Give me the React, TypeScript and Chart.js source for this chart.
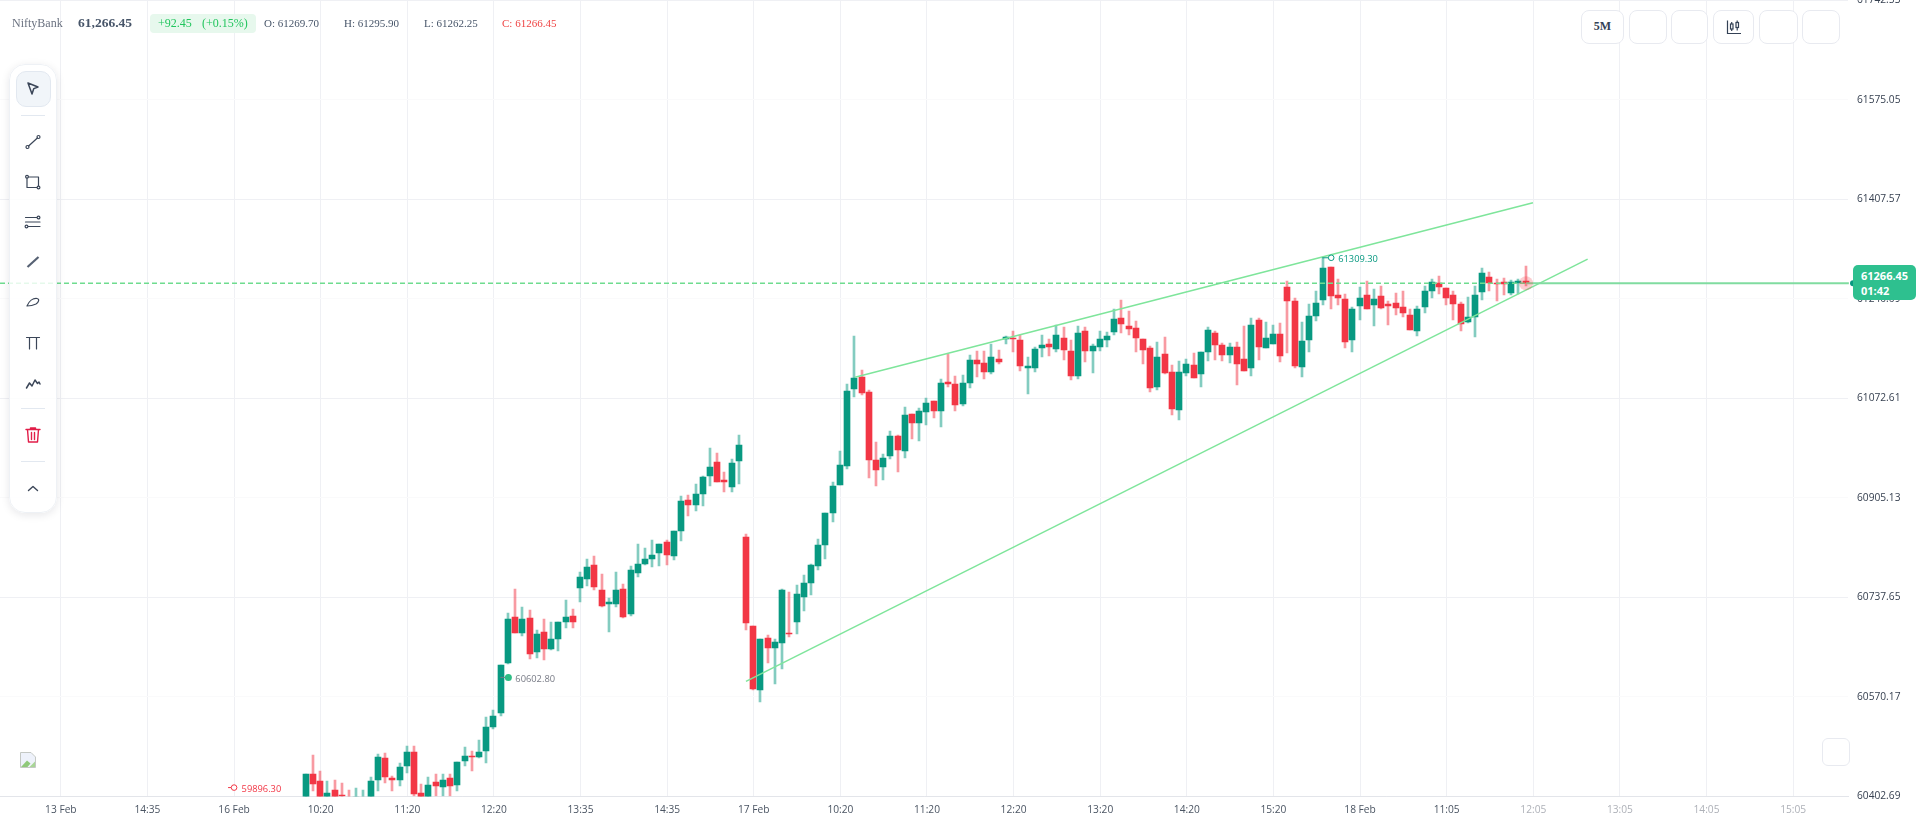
import React, { useEffect, useRef } from "react";
import { Chart, registerables } from "chart.js";

Chart.register(...registerables);

const firstIndex = -2;

const opens = [
  60385.7,60440.7,60428.9,60391.3,60413.8,60404.8,60399.8,60394.1,60394.1,60391.3,
  60430.6,60467.6,60434,60430.6,60454.2,60477.7,60408.7,60397,60427.2,60418.8,
  60434,60422.2,60462.6,60471,60469.3,60479.4,60519.8,60543.4,60627.5,60704.9,
  60678,60703.3,60646,60679.7,60651.1,60667.9,60696.5,60706.6,60753.8,60768.9,
  60792.5,60750.4,60726.8,60726.8,60752.1,60710,60779,60794.1,60802.6,60812.7,
  60831.2,60807.6,60849.7,60901.9,60893.4,60912,60942.3,60965.8,60935.5,60923.7,
  60967.5,60839.6,60689.8,60582.1,60669.6,60652.8,60661.2,60678,60696.5,60738.6,
  60762.2,60790.8,60826.1,60880,60927.1,60959.1,61088.7,61108.9,61083.6,60969.2,
  60957.4,60975.9,61009.6,60984.3,61046.6,61031.5,61050,61068.5,61051.6,61100.5,
  61097.1,61063.4,61098.8,61137.5,61132.4,61117.3,61139.2,61172.8,61174.5,61171.1,
  61124,61124,61157.7,61164.4,61156,61174.5,61152.6,61110.5,61186.3,61152.6,
  61159.3,61171.1,61184.6,61208.1,61194.7,61191.3,61172.8,61157.7,61092,61147.6,
  61117.3,61053.3,61115.6,61129,61113.9,61150.9,61182.9,61162.7,61145.9,61159.3,
  61139.1,61124,61204.8,61157.7,61164.4,61181.2,61260.3,61236.8,61125.7,61171.1,
  61211.5,61238.4,61294,61246.8,61240.1,61171.1,61228.3,61246.8,61230,61245.2,
  61231.7,61233.4,61226.6,61213.2,61186.2,61226.6,61253.6,61267,61258.6,61246.8,
  61231.7,61201.4,61209.8,61251.9,61277.1,61267,61268.7,61250.2,61267,61269.7,
];

const highs = [
  60441,60472.7,60445.8,60428.9,60430.6,60425.6,60413.8,60417.2,60413.8,60435.7,
  60474.4,60476,60437.4,60459.2,60487.8,60487.8,60423.9,60435.7,60440.7,60440.7,
  60440.7,60460.9,60486.2,60479.4,60497.9,60536.6,60548.4,60624.2,60711.7,60752.1,
  60721.8,60716.7,60683.1,60701.6,60696.5,60696.5,60733.6,60718.4,60780.7,60802.6,
  60807.6,60777.3,60736.9,60780.7,60760.5,60790.8,60827.8,60821.1,60834.5,60827.8,
  60834.5,60849.7,60908.6,60910.3,60928.8,60942.3,60989.4,60981,60949,60970.9,
  61011.3,60844.6,60689.8,60667.9,60674.7,60667.9,60752.1,60747,60758.8,60775.6,
  60794.1,60836.2,60880,60932.2,60984.3,61097.1,61177.9,61120.6,61087,60999.5,
  60979.3,61018,61011.3,61058.4,61046.6,61056.7,61073.5,61068.5,61105.5,61147.6,
  61110.6,61112.2,61145.9,61152.6,61152.6,61164.4,61154.3,61177.9,61186.3,61179.6,
  61142.5,61159.4,61179.6,61172.8,61196.4,61193,61171.1,61194.7,61193,61164.4,
  61186.3,61184.6,61223.3,61238.4,61219.9,61203.1,61172.8,61161,61167.8,61176.2,
  61129,61135.8,61139.1,61149.2,61150.9,61193,61186.3,61166.1,61166.1,61167.8,
  61194.7,61208.1,61208.1,61201.4,61196.4,61199.7,61270.4,61241.8,61201.4,61231.7,
  61253.6,61309.3,61294,61273.8,61248.5,61226.6,61260.3,61270.4,61256.9,61262,
  61236.7,61250.2,61253.6,61223.3,61228.3,61262,61273.8,61278.8,61258.6,61253.6,
  61235.1,61243.5,61262,61292.3,61285.5,61273.8,61275.4,61272.1,61273.8,61295.9,
];

const lows = [
  60380.1,60412.1,60391.3,60385.7,60385.7,60397,60391.3,60388.5,60388.5,60385.7,
  60412.1,60425.6,60412.1,60420.5,60442.4,60402.6,60391.3,60391.3,60402.6,60402.6,
  60402.6,60412.1,60454.2,60445.8,60467.6,60459.2,60516.4,60538.3,60625.8,60678,
  60673,60634.3,60635.9,60632.6,60649.4,60647.7,60686.4,60686.4,60730.2,60757.1,
  60750.4,60721.8,60679.7,60721.8,60703.3,60706.6,60772.3,60792.5,60789.1,60790.8,
  60792.5,60800.9,60832.9,60874.9,60883.3,60891.8,60925.4,60932.2,60915.3,60915.3,
  60928.8,60683.1,60582.1,60561.9,60627.5,60592.2,60617.4,60671.3,60676.3,60715,
  60742,60784,60802.6,60864.8,60927.1,60954,61075.2,61078.6,60938.9,60925.4,
  60935.5,60970.9,60949,60972.5,61004.5,61001.2,61028.1,61039.9,61024.7,61092,
  61051.6,61060.1,61090.4,61108.9,61105.5,61113.9,61130.7,61164.4,61150.9,61119,
  61080.3,61117.3,61142.5,61144.2,61150.9,61137.5,61103.8,61105.5,61134.1,61115.6,
  61152.6,61159.3,61179.5,61182.9,61179.5,61150.9,61130.7,61083.6,61087,61113.9,
  61044.9,61036.5,61110.5,61107.2,61092,61135.8,61137.5,61135.8,61132.4,61095.4,
  61118.9,61110.5,61137.5,61157.7,61164.4,61134.1,61149.2,61124,61108.8,61150.9,
  61203.1,61230,61223.3,61230,61157.6,61150.9,61204.8,61223.3,61194.7,61223.3,
  61196.3,61213.2,61209.8,61187.9,61177.8,61216.5,61241.8,61248.5,61230,61204.8,
  61186.2,61199.7,61176.1,61238.4,61253.6,61236.7,61246.8,61246.8,61248.5,61262.25,
];

const closes = [
  60440.7,60423.9,60397,60408.7,60391.3,60402.6,60397,60401.4,60399.8,60428.9,
  60469.3,60435.7,60430.6,60452.5,60477.7,60407,60397,60422.2,60420.5,60430.6,
  60420.5,60460.9,60471,60469.3,60477.7,60519.8,60538.3,60624.2,60701.6,60678,
  60701.6,60642.7,60676.3,60651.1,60667.9,60696.5,60704.9,60696.5,60772.3,60789.1,
  60755.4,60723.5,60730.2,60750.4,60704.9,60784,60794.1,60802.6,60809.3,60827.8,
  60809.3,60849.7,60900.2,60893.4,60912,60940.6,60957.4,60932.2,60932.2,60964.1,
  60994.4,60694.9,60583.8,60667.9,60652.8,60662.9,60750.4,60676.3,60743.7,60762.2,
  60792.5,60826.1,60880,60925.4,60960.8,61085.3,61107.2,61081.9,60969.2,60952.3,
  60972.5,61009.6,60986,61044.9,61031.5,61051.6,61065.1,61051.6,61098.8,61097.1,
  61061.7,61098.8,61137.5,61130.7,61117.3,61142.5,61134.1,61176.2,61172.8,61127.4,
  61127.4,61156,61162.7,61159.3,61179.5,61154.3,61110.5,61182.9,61152.6,61161,
  61172.8,61177.9,61206.5,61198,61189.6,61174.5,61154.3,61090.3,61142.5,61115.6,
  61055,61117.3,61130.7,61107.2,61150.9,61187.9,61162.7,61145.9,61159.3,61130.7,
  61118.9,61196.4,61159.3,61174.5,61181.2,61144.2,61236.8,61127.4,61169.4,61211.5,
  61233.4,61292.3,61245.2,61241.8,61167.7,61223.3,61241.8,61223.3,61240.1,61225,
  61228.3,61225,61216.5,61187.9,61223.3,61253.6,61268.7,61260.3,61241.8,61231.7,
  61198,61209.8,61246.8,61283.9,61267,61265.3,61265.3,61268.7,61270.4,61266.45,
];

const xTickValues = [-36,-24,-12,0,12,24,36,48,60,72,84,96,108,120,132,144,156,168,180,192,204];
const xTickLabels = ["13 Feb","14:35","16 Feb","10:20","11:20","12:20","13:35","14:35","17 Feb","10:20","11:20","12:20","13:20","14:20","15:20","18 Feb","11:05","12:05","13:05","14:05","15:05"];
const firstFutureTick = 17;
const yTickValues = [60402.69,60570.17,60737.65,60905.13,61072.61,61240.09,61407.57,61575.05,61742.53];

const lastPrice = 61266.45;
const lastIndex = 167;
const lowerTrend = [{ x: 58.92, y: 60596 }, { x: 175.53, y: 61307 }];
const upperTrend = [{ x: 74.02, y: 61108 }, { x: 167.95, y: 61402 }];

const X_MIN = -44.43;
const X_MAX = 211.6;
const Y_MIN = 60402.3;
const Y_MAX = 61743.3;

const TEAL = "#089981";
const RED = "#f23645";
const TEAL_WICK = "rgba(8,153,129,0.5)";
const RED_WICK = "rgba(242,54,69,0.5)";
const TREND = "#7ee59b";
const TICK_FONT = "'Open Sans', sans-serif";

const isUp = (i: number) => closes[i] >= opens[i];

const candlePlugin = {
  id: "candleSnap",
  afterDatasetsUpdate(chart: any) {
    chart.data.datasets.forEach((d: any, di: number) => {
      if (d.type !== "bar") return;
      chart.getDatasetMeta(di).data.forEach((el: any) => {
        el.x = Math.floor(el.x);
        el.y = Math.round(el.y);
        el.base = Math.round(el.base);
        if (el.y === el.base) el.base = el.y + 1;
        el.height = el.base - el.y;
      });
    });
  },
  afterDatasetsDraw(chart: any) {
    const { ctx } = chart;
    const sx = chart.scales.x;
    const sy = chart.scales.y;
    ctx.save();
    ctx.textBaseline = "middle";
    ctx.textAlign = "left";
    ctx.font = `9.3px ${TICK_FONT}`;

    // pulse on the live candle
    const px = Math.floor(sx.getPixelForValue(lastIndex));
    const py = sy.getPixelForValue(lastPrice);
    ctx.beginPath();
    ctx.arc(px, py, 7, 0, Math.PI * 2);
    ctx.fillStyle = "rgba(242,54,69,0.25)";
    ctx.fill();

    // high marker
    const hx = sx.getPixelForValue(140);
    const hy = sy.getPixelForValue(61309.3);
    ctx.strokeStyle = TEAL;
    ctx.lineWidth = 1;
    ctx.beginPath();
    ctx.moveTo(hx - 9, hy);
    ctx.lineTo(hx - 3, hy);
    ctx.stroke();
    ctx.beginPath();
    ctx.arc(hx, hy, 2.8, 0, Math.PI * 2);
    ctx.fillStyle = "#fff";
    ctx.fill();
    ctx.stroke();
    ctx.fillStyle = TEAL;
    ctx.fillText("61309.30", hx + 7, hy + 2);

    // previous marker
    const mx = sx.getPixelForValue(26);
    const my = sy.getPixelForValue(60602.8);
    ctx.strokeStyle = "#787b86";
    ctx.beginPath();
    ctx.moveTo(mx - 8, my);
    ctx.lineTo(mx, my);
    ctx.stroke();
    ctx.beginPath();
    ctx.arc(mx, my, 3.5, 0, Math.PI * 2);
    ctx.fillStyle = "#2ebd85";
    ctx.fill();
    ctx.fillStyle = "#787b86";
    ctx.fillText("60602.80", mx + 7, my + 2);

    // low marker pinned to the lower edge
    const lx = sx.getPixelForValue(-12);
    const ly = sy.getPixelForValue(60417.3);
    ctx.strokeStyle = RED;
    ctx.beginPath();
    ctx.moveTo(lx - 6, ly);
    ctx.lineTo(lx - 3, ly);
    ctx.stroke();
    ctx.beginPath();
    ctx.arc(lx, ly, 2.8, 0, Math.PI * 2);
    ctx.fillStyle = "#fff";
    ctx.fill();
    ctx.stroke();
    ctx.fillStyle = RED;
    ctx.fillText("59896.30", lx + 7.5, ly + 2);

    // live-price anchor
    ctx.beginPath();
    ctx.arc(1853, py, 3, 0, Math.PI * 2);
    ctx.fillStyle = TEAL;
    ctx.fill();
    ctx.restore();
  },
};

const ink = "#3b4658";

const Svg = ({ children, size = 18 }: any) => (
  <svg width={size} height={size} viewBox="0 0 18 18" fill="none" stroke={ink} strokeWidth={1.2} strokeLinecap="round" strokeLinejoin="round">
    {children}
  </svg>
);

const toolIcons: { y: number; icon: any }[] = [
  { y: 89, icon: <Svg><path d="M4 3l10 4-4.2 1.6L8 14z" strokeWidth={1.5} /></Svg> },
  { y: 141.5, icon: <Svg><circle cx="3.5" cy="14" r="1.5" /><circle cx="14.5" cy="4" r="1.5" /><path d="M4.6 13L13.4 5" /></Svg> },
  { y: 181.5, icon: <Svg><rect x="3" y="4" width="11.5" height="10.5" /><circle cx="3" cy="3.8" r="1.4" fill="#fff" /><circle cx="14.5" cy="14.5" r="1.4" fill="#fff" /></Svg> },
  { y: 221.5, icon: <Svg><path d="M1.5 4.5H13M1.5 9H16M4 13.5H16" /><circle cx="14.5" cy="4.5" r="1.4" fill="#fff" /><circle cx="2.5" cy="13.5" r="1.4" fill="#fff" /></Svg> },
  { y: 261.5, icon: <Svg><path d="M3.500 14L14.500 4" strokeWidth={2.200} strokeLinecap="butt" stroke="#566173" /></Svg> },
  { y: 301.5, icon: <Svg><path d="M3 13c2-5 6-8 10-7.500 3 .5 1.500 4-1 5.500-3 1.500-6 2-9 2z" /></Svg> },
  { y: 342.5, icon: <Svg><path d="M2.500 3.500H15.500M5.500 3.500V15M12.500 3.500V15" /></Svg> },
  { y: 382.5, icon: <Svg><path d="M2.500 14l3-5 2.500 3 3-6 2.500 3.500 1.500-1.500 1 2" strokeWidth={1.500} /></Svg> },
  { y: 435, icon: <Svg size={18}><g stroke="#e11d48" strokeWidth={1.4}><path d="M2 3.500H16M6.500 3.500V2h5v1.500M3.500 3.500l1 12.500h9l1-12.500z" /><path d="M7.500 6.500v7M10.500 6.500v7" /></g></Svg> },
  { y: 488, icon: <Svg><path d="M4.500 11.500L9 7.500l4.500 4" strokeWidth={1.4} /></Svg> },
];

const toolDividers = [115, 408, 461];
const topButtons: [number, number, string][] = [
  [1581, 43, "5M"], [1629, 38, ""], [1671, 37, ""], [1713, 41, "icon"], [1759, 39, ""], [1802, 38, ""],
];

const abs = (left: number, top: number, extra: any = {}): any => ({ position: "absolute", left, top, ...extra });
const serif = "'Liberation Serif', serif";
const headerText = (left: number, color: string, fontSize = 12, fontWeight = 400): any =>
  abs(left, 23 - 8, { color, fontSize, fontWeight, fontFamily: serif, lineHeight: "16px", whiteSpace: "nowrap" });

export default function App() {
  const ref = useRef<HTMLCanvasElement | null>(null);

  useEffect(() => {
    document.body.style.margin = "0";
    const xs = opens.map((_, i) => firstIndex + i);
    const chart = new Chart(ref.current as HTMLCanvasElement, {
      type: "bar",
      plugins: [candlePlugin],
      data: {
        datasets: [
          { type: "line", data: [{ x: X_MIN, y: lastPrice }, { x: lastIndex, y: lastPrice }], borderColor: "#6fdc8f", borderWidth: 1.5, borderDash: [5, 3], pointRadius: 0 },
          { type: "line", data: [{ x: lastIndex, y: lastPrice }, { x: 211.72, y: lastPrice }], borderColor: "#80dca0", borderWidth: 2, pointRadius: 0, clip: false },
          { type: "line", data: lowerTrend, borderColor: TREND, borderWidth: 1.5, pointRadius: 0 },
          { type: "line", data: upperTrend, borderColor: TREND, borderWidth: 1.5, pointRadius: 0 },
          {
            type: "bar",
            data: xs.map((x, i) => ({ x, y: [opens[i], closes[i]] })),
            backgroundColor: xs.map((_, i) => (isUp(i) ? TEAL : RED)),
            barThickness: 6,
            grouped: false,
            borderWidth: 0,
          },
          {
            type: "bar",
            data: xs.map((x, i) => ({ x, y: [lows[i], highs[i]] })),
            backgroundColor: xs.map((_, i) => (isUp(i) ? TEAL_WICK : RED_WICK)),
            barThickness: 2,
            grouped: false,
            borderWidth: 0,
          },
        ] as any,
      },
      options: {
        responsive: false,
        animation: false,
        events: [],
        layout: { padding: 0 },
        plugins: { legend: { display: false }, tooltip: { enabled: false }, title: { display: false } },
        scales: {
          x: {
            type: "linear",
            position: "bottom",
            min: X_MIN,
            max: X_MAX,
            offset: false,
            bounds: "data",
            afterBuildTicks(s: any) { s.ticks = xTickValues.map((value) => ({ value })); },
            afterFit(s: any) { s.height = 29.5; s.paddingLeft = 0; s.paddingRight = 0; },
            grid: { offset: false, color: "#eff0f4", lineWidth: 1, drawTicks: false },
            border: { color: "#e3e5ea", width: 1 },
            ticks: {
              autoSkip: false,
              maxRotation: 0,
              padding: 7,
              font: { family: TICK_FONT, size: 10.2 },
              color: (c: any) => (c.index >= firstFutureTick ? "#aeb1b8" : "#4b5563"),
              callback: (_v: any, i: number) => xTickLabels[i],
            },
          },
          y: {
            type: "linear",
            position: "right",
            min: Y_MIN,
            max: Y_MAX,
            bounds: "data",
            afterBuildTicks(s: any) { s.ticks = yTickValues.map((value) => ({ value })); },
            afterFit(s: any) { s.width = 72; s.paddingTop = 0; s.paddingBottom = 0; },
            grid: {
              color: (c: any) => (c.index % 2 === 0 ? "#eff0f4" : "#fafafb"),
              lineWidth: 1,
              drawTicks: false,
            },
            border: { display: false },
            ticks: {
              padding: 9,
              font: { family: TICK_FONT, size: 10.2 },
              color: "#374151",
              callback: (v: any) => Number(v).toFixed(2),
            },
          },
        },
      } as any,
    });
    return () => chart.destroy();
  }, []);

  return (
    <div style={{ position: "absolute", left: 0, top: 0, width: 1920, height: 826, overflow: "hidden", background: "#fff" }}>
      <canvas ref={ref} width={1920} height={826} style={{ display: "block", width: 1920, height: 826 }} />

      {/* header */}
      <div style={headerText(12, "#6b7280", 12)}>NiftyBank</div>
      <div style={headerText(78, "#475569", 13.5, 700)}>61,266.45</div>
      <div style={abs(150, 14, { width: 106, height: 19, borderRadius: 4, background: "#e7f8ed" })} />
      <div style={headerText(158, "#22c55e")}>+92.45</div>
      <div style={headerText(202, "#22c55e")}>(+0.15%)</div>
      <div style={headerText(264, "#475569", 11)}>O: 61269.70</div>
      <div style={headerText(344, "#475569", 11)}>H: 61295.90</div>
      <div style={headerText(424, "#475569", 11)}>L: 61262.25</div>
      <div style={headerText(502, "#ef4444", 11)}>C: 61266.45</div>

      {/* drawing toolbar */}
      <div style={abs(9, 64, { width: 48, height: 448.5, boxSizing: "border-box", borderRadius: 16, background: "rgba(255,255,255,0.82)", border: "1px solid #eef1f5", boxShadow: "0 2px 8px rgba(15,23,42,0.10)" })} />
      <div style={abs(15.5, 71, { width: 35.5, height: 36, boxSizing: "border-box", borderRadius: 10, background: "#f1f5f9", border: "1px solid #e2e8f0" })} />
      {toolDividers.map((y) => (
        <div key={y} style={abs(21, y, { width: 24, height: 1, background: "#e2e8f0" })} />
      ))}
      {toolIcons.map(({ y, icon }) => (
        <div key={y} style={abs(23, y - 10, { width: 20, height: 20, display: "flex", alignItems: "center", justifyContent: "center" })}>{icon}</div>
      ))}

      {/* top-right buttons */}
      {topButtons.map(([left, width, label]) => (
        <div key={left} style={abs(left, 10, { width, height: 33.5, boxSizing: "border-box", borderRadius: 8, background: "#fff", border: "1px solid #e8eaf0", display: "flex", alignItems: "center", justifyContent: "center", fontFamily: serif, fontWeight: 700, fontSize: 12, color: "#334155" })}>
          {label === "icon" ? (
            <svg width="16" height="16" viewBox="0 0 16 16" fill="none" stroke="#334155" strokeWidth="1.2">
              <path d="M1.500 1.500V14.500H15" /><rect x="4.500" y="5" width="2.500" height="5" /><path d="M5.700 3v2M5.700 10v2" /><rect x="10" y="3.500" width="2.500" height="5" /><path d="M11.200 1.500v2M11.200 8.500v3" />
            </svg>
          ) : label}
        </div>
      ))}
      <div style={abs(1822, 738, { width: 27.5, height: 27.5, boxSizing: "border-box", borderRadius: 6, background: "#fff", border: "1px solid #e8eaf0" })} />

      {/* broken image placeholder */}
      <svg style={abs(20, 752)} width="16" height="16" viewBox="0 0 16 16">
        <path d="M0.500 0.500H11L15.500 5V15.500H0.500Z" fill="#eef2fb" stroke="#c4c8c4" />
        <path d="M1 15L7 8.500L10.500 11.500L7.500 15Z" fill="#8fc97a" />
        <path d="M9.500 15L15 9.500V15Z" fill="#a8d596" />
      </svg>

      {/* live price tag */}
      <div style={abs(1853, 265, { width: 63, height: 35, boxSizing: "border-box", borderRadius: 5, background: "#2ec08f", color: "#fff", fontFamily: TICK_FONT, fontWeight: 700, fontSize: 11, lineHeight: "15.5px", padding: "2.500px 0 0 8px" })}>
        <div>61266.45</div>
        <div>01:42</div>
      </div>
    </div>
  );
}
